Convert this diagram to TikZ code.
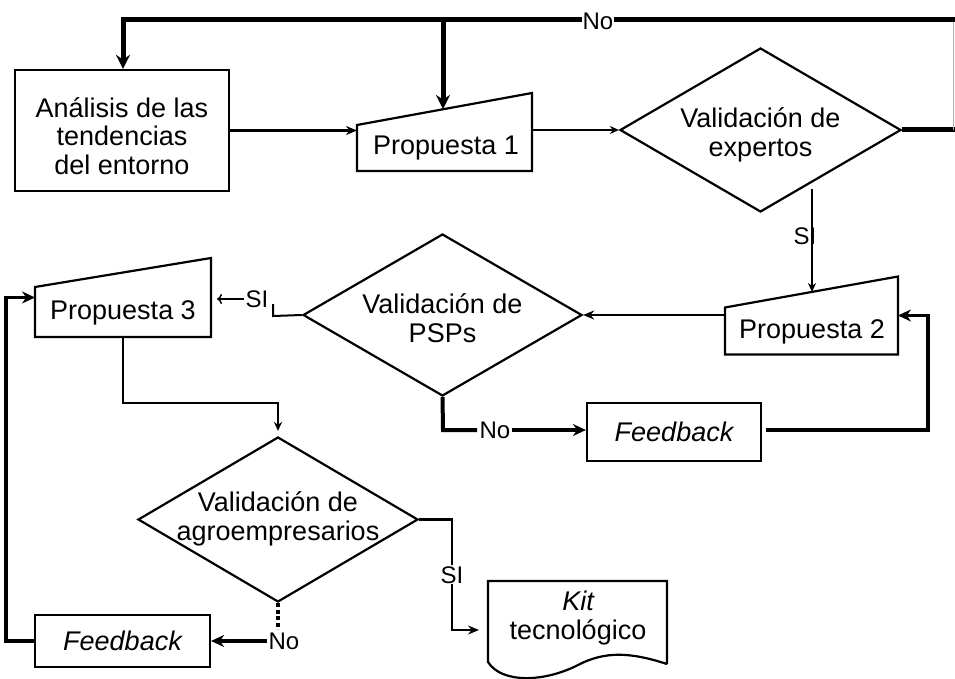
\documentclass[tikz,border=0pt]{standalone}
\usepackage{fontspec}
\setmainfont{Liberation Sans}
\usetikzlibrary{arrows.meta,shapes.geometric,calc}
\begin{document}
\begin{tikzpicture}[x=1pt,y=-1pt,
  shapeline/.style={line width=2.2pt, line join=miter},
  txt/.style={align=center, font=\fontsize{27}{28.5}\selectfont, inner sep=0pt},
  lbl/.style={font=\fontsize{24}{25}\selectfont, inner sep=1pt},
  dia/.style={diamond, draw, line width=2.2pt, minimum width=281pt, minimum height=164pt, inner sep=0pt},
  box/.style={rectangle, draw, line width=2.2pt, inner sep=0pt},
  ghost/.style={rectangle, inner sep=0pt, outer sep=0pt},
  thinarrow/.style={line width=1.5pt, -{Stealth[length=9pt,width=8pt]}},
  medarrow/.style={line width=2.2pt, -{Stealth[length=11pt,width=9pt]}},
  thickarrow/.style={line width=5pt, line join=miter, -{Stealth[length=14pt,width=14pt]}},
  boldarrow/.style={line width=3.8pt, line join=miter, -{Stealth[length=13pt,width=12pt]}},
  thickline/.style={line width=5pt},
]
\useasboundingbox (0,0) rectangle (955,679);

% --- boxes
\node[box, minimum width=214pt, minimum height=121pt] (ana) at (122,130.5) {};
\node[txt] (anat) at (122,136) {Análisis de las\\tendencias\\del entorno};

\node[ghost, minimum width=175pt, minimum height=78pt] (p1) at (444.5,132) {};
\draw[shapeline] (p1.south west) -- (p1.south east) -- (p1.north east) -- ($(p1.north west)+(0,32)$) -- cycle;
\node[txt] (p1t) at (446,148) {Propuesta 1};

\node[dia] (ve) at (760.5,130) {};
\node[txt] (vet) at (760.5,135) {Validación de\\expertos};

\node[ghost, minimum width=173pt, minimum height=78pt] (p2) at (811.5,315.5) {};
\draw[shapeline] (p2.south west) -- (p2.south east) -- (p2.north east) -- ($(p2.north west)+(0,31)$) -- cycle;
\node[txt] (p2t) at (812,332) {Propuesta 2};

\node[dia, minimum width=279pt, minimum height=162pt] (psps) at (442.5,315) {};
\node[txt] (pspst) at (442.5,318) {Validación de\\PSPs};

\node[ghost, minimum width=176pt, minimum height=79pt] (p3) at (123,297.5) {};
\draw[shapeline] (p3.south west) -- (p3.south east) -- (p3.north east) -- ($(p3.north west)+(0,29)$) -- cycle;
\node[txt] (p3t) at (123,313) {Propuesta 3};

\node[box, txt, minimum width=174pt, minimum height=58pt] (fb1) at (674,432) {\itshape Feedback};

\node[dia, minimum width=280pt, minimum height=165pt] (agro) at (278,519.5) {};
\node[txt] (agrot) at (278,519) {Validación de\\agroempresarios};

\node[box, txt, minimum width=175pt, minimum height=52pt] (fb2) at (122.5,641) {\itshape Feedback};

\node[ghost, minimum width=179pt, minimum height=83pt] (kit) at (577.5,622.5) {};
\draw[shapeline] (kit.south east) -- (kit.north east) -- (kit.north west) -- (488,662)
  .. controls (502,684) and (545,682) .. (578,665)
  .. controls (605,651) and (630,652) .. (kit.south east);
\node[txt] (kitt) at (578,618) {\itshape Kit\\tecnológico};

% --- connectors
\coordinate (rt) at (955,130);
\coordinate (rtop) at (955,20);
\coordinate (lt) at (123,20);
\coordinate (j1) at (443,20);
\draw[thickline] (ve.east) -- (rt);
\draw[line width=1pt, black!30] (953,130) -- (953,20);
\draw[thickarrow] (rtop) -- (lt) -- (lt |- ana.north);
\draw[thickarrow] (j1) -- (443,109);
\node[lbl, fill=white] (no0) at (598,21) {No};

\draw[medarrow] (ana.east) -- (ana.east -| p1.west);
\draw[thinarrow] (p1.east |- ve.west) -- (ve.west);

\coordinate (s1) at (812,189);
\draw[thinarrow] (s1) -- (812,292);
\node[lbl] (si1) at (805,236) {SI};

\draw[medarrow] (p2.west |- psps.east) -- (psps.east);

\draw[line width=2pt] (psps.west) -- (273,316) -- (273,304);
\node[lbl] (si2) at (257,299) {SI};
\draw[line width=1.4pt, -{To[length=5pt,width=10pt]}, shorten >=6pt] (si2.west) -- (si2.west -| p3.east);

\draw[line width=4pt, line join=miter] (psps.south) -- (443,430) -- (477,430);
\node[lbl] (no1) at (495,430) {No};
\draw[boldarrow] (no1.east) -- (no1.east -| fb1.west);
\draw[boldarrow, shorten <=4pt] (fb1.east |- 0,430) -- (928,430) |- (p2.east);

\draw[thinarrow, shorten >=5pt] (p3.south) -- ++(0,66) -| (agro.north);

\draw[line width=4pt, dash pattern=on 4pt off 2.5pt] (agro.south) -- ++(0,26);
\node[lbl] (no2) at (284,641) {No};
\draw[boldarrow] (no2.west) -- (fb2.east);
\draw[boldarrow] (fb2.west) -- ++(-28,0) |- (p3.west);

\draw[medarrow, shorten >=9pt] (agro.east) -- (452,519.5) -- node[lbl, fill=white]{SI} (452,630) -- (kit.west |- 0,630);
\end{tikzpicture}
\end{document}
